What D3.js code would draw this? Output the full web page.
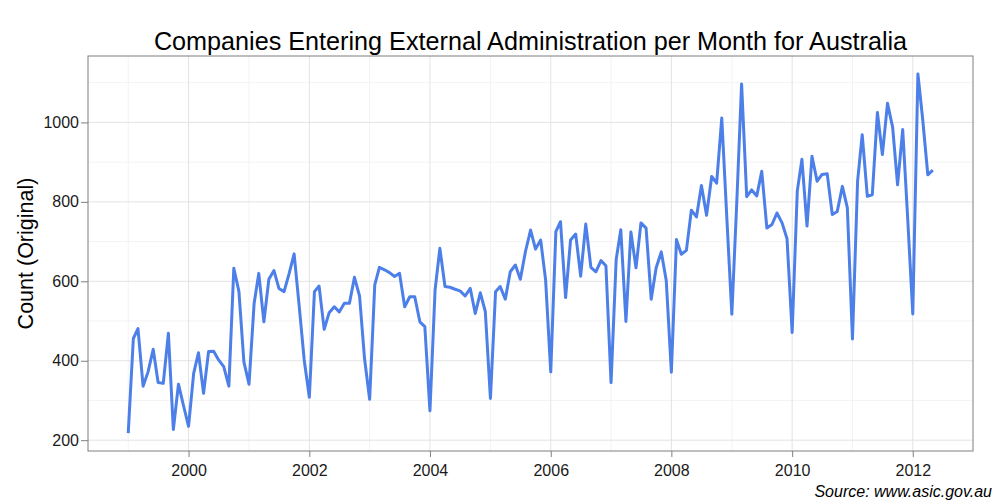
<!DOCTYPE html>
<html>
<head>
<meta charset="utf-8">
<script src="https://cdn.jsdelivr.net/npm/d3@7"></script>
<style>
  body { margin: 0; background: #fff; }
  svg { display: block; font-family: "Liberation Sans", Arial, sans-serif; }
</style>
</head>
<body>
<div id="chart"></div>
<script>
// Monthly counts, Jan 1999 .. May 2012
const startYear = 1999;
const counts = [
  218, 456, 481, 336, 372, 429, 345, 343, 469, 227, 341, 288,   // 1999
  235, 368, 420, 318, 423, 424, 402, 385, 336, 633, 574, 397,   // 2000
  341, 545, 620, 498, 605, 627, 582, 574, 620, 669, 536, 402,   // 2001
  308, 574, 588, 479, 521, 536, 523, 545, 545, 610, 563, 406,   // 2002
  303, 591, 635, 629, 622, 612, 620, 536, 561, 561, 498, 486,   // 2003
  274, 578, 683, 587, 585, 580, 576, 563, 582, 519, 571, 524,   // 2004
  305, 574, 587, 555, 624, 641, 605, 675, 729, 681, 704, 603,   // 2005
  372, 725, 750, 559, 704, 719, 613, 744, 635, 624, 652, 639,   // 2006
  345, 655, 730, 499, 724, 634, 747, 734, 555, 634, 674, 602,   // 2007
  371, 705, 668, 678, 779, 762, 841, 766, 864, 847, 1011, 765,  // 2008
  517, 810, 1097, 813, 830, 815, 877, 734, 743, 772, 747, 707,  // 2009
  471, 827, 907, 739, 915, 852, 869, 871, 768, 776, 839, 785,   // 2010
  455, 852, 969, 814, 818, 1025, 919, 1048, 988, 843, 982, 760, // 2011
  518, 1122, 1008, 868, 880                                     // 2012
];
const yTicks = [200, 400, 600, 800, 1000];
const yMinor = [300, 500, 700, 900, 1100];
const xTickYears = [2000, 2002, 2004, 2006, 2008, 2010, 2012];
const xMinorYears = [1999, 2001, 2003, 2005, 2007, 2009, 2011];

const titleText = 'Companies Entering External Administration per Month for Australia';
const yLabel = 'Count (Original)';
const sourceText = 'Source: www.asic.gov.au';

const data = counts.map((v, i) => ({ date: new Date(startYear, i, 1), value: v }));

const W = 1000, H = 500;
const margin = { top: 56, right: 27, bottom: 49, left: 88 };
const pw = W - margin.left - margin.right;
const ph = H - margin.top - margin.bottom;
const FONT = '"Liberation Sans", Arial, sans-serif';

const svg = d3.select('#chart').append('svg')
  .attr('width', W).attr('height', H);

// ggplot-style 5% expansion
const [x0, x1] = d3.extent(data, d => d.date);
const xPad = (x1 - x0) * 0.05;
const x = d3.scaleTime()
  .domain([new Date(+x0 - xPad), new Date(+x1 + xPad)])
  .range([0, pw]);

const [v0, v1] = d3.extent(counts);
const yPad = (v1 - v0) * 0.05;
const y = d3.scaleLinear()
  .domain([v0 - yPad, v1 + yPad])
  .range([ph, 0]);

const g = svg.append('g')
  .attr('transform', `translate(${margin.left},${margin.top})`);

// Minor grid
g.selectAll('.ymin').data(yMinor).join('line')
  .attr('x1', 0).attr('x2', pw)
  .attr('y1', d => y(d)).attr('y2', d => y(d))
  .attr('stroke', '#f3f3f3').attr('stroke-width', 1);
g.selectAll('.xmin').data(xMinorYears).join('line')
  .attr('x1', d => x(new Date(d, 0, 1))).attr('x2', d => x(new Date(d, 0, 1)))
  .attr('y1', 0).attr('y2', ph)
  .attr('stroke', '#f3f3f3').attr('stroke-width', 1);

// Major grid
g.selectAll('.ymaj').data(yTicks).join('line')
  .attr('x1', 0).attr('x2', pw)
  .attr('y1', d => y(d)).attr('y2', d => y(d))
  .attr('stroke', '#e3e3e3').attr('stroke-width', 1);
g.selectAll('.xmaj').data(xTickYears).join('line')
  .attr('x1', d => x(new Date(d, 0, 1))).attr('x2', d => x(new Date(d, 0, 1)))
  .attr('y1', 0).attr('y2', ph)
  .attr('stroke', '#e3e3e3').attr('stroke-width', 1);

// Series line
const line = d3.line()
  .x(d => x(d.date))
  .y(d => y(d.value));

g.append('path')
  .datum(data)
  .attr('d', line)
  .attr('fill', 'none')
  .attr('stroke', '#4d7fe8')
  .attr('stroke-width', 3)
  .attr('stroke-linejoin', 'round');

// Panel border
g.append('rect')
  .attr('x', 0).attr('y', 0).attr('width', pw).attr('height', ph)
  .attr('fill', 'none').attr('stroke', '#7f7f7f').attr('stroke-width', 1);

// Axes
const xAxis = d3.axisBottom(x)
  .tickValues(xTickYears.map(yr => new Date(yr, 0, 1)))
  .tickFormat(d3.timeFormat('%Y'))
  .tickSizeOuter(0).tickSize(6).tickPadding(8);
g.append('g')
  .attr('transform', `translate(0,${ph})`)
  .call(xAxis)
  .call(a => {
    a.select('.domain').remove();
    a.selectAll('line').attr('stroke', '#7f7f7f');
    a.selectAll('text').attr('fill', '#1a1a1a').attr('font-size', 16)
      .attr('font-family', FONT);
  });

const yAxis = d3.axisLeft(y)
  .tickValues(yTicks)
  .tickFormat(d3.format('d'))
  .tickSizeOuter(0).tickSize(7).tickPadding(2);
g.append('g')
  .call(yAxis)
  .call(a => {
    a.select('.domain').remove();
    a.selectAll('line').attr('stroke', '#7f7f7f');
    a.selectAll('text').attr('fill', '#1a1a1a').attr('font-size', 16)
      .attr('font-family', FONT);
  });

// Title
svg.append('text')
  .attr('x', margin.left + pw / 2).attr('y', 50)
  .attr('text-anchor', 'middle')
  .attr('font-size', 25.2).attr('fill', '#000')
  .text(titleText);

// Y label
svg.append('text')
  .attr('transform', `translate(33,${margin.top + ph / 2}) rotate(-90)`)
  .attr('text-anchor', 'middle')
  .attr('font-size', 21.5).attr('fill', '#000')
  .text(yLabel);

// Source caption
svg.append('text')
  .attr('x', 992).attr('y', 497)
  .attr('text-anchor', 'end')
  .attr('font-size', 16).attr('font-style', 'italic').attr('fill', '#000')
  .text(sourceText);
</script>
</body>
</html>
